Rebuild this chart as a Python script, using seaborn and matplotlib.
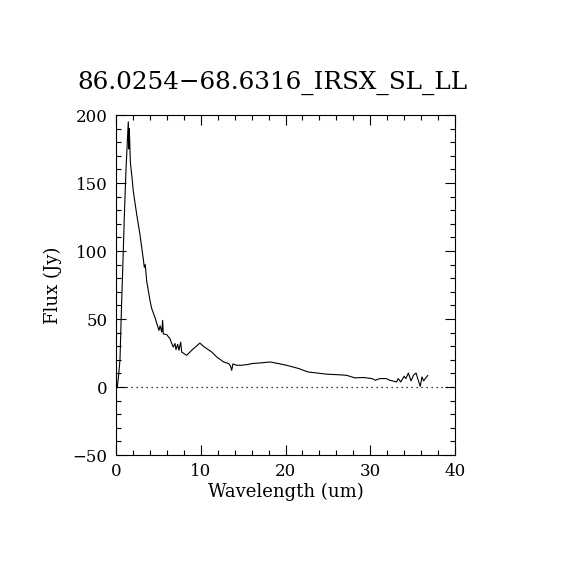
import matplotlib
matplotlib.use("Agg")
import matplotlib.pyplot as plt
import pandas as pd
import seaborn as sns
from matplotlib.ticker import MultipleLocator

# spectrum
wavelength = [0.15, 0.3, 0.47, 0.67, 0.86, 0.98, 1.18, 1.45, 1.52, 1.57, 1.7, 1.89,
              2.04, 2.44, 2.83, 3.22, 3.34, 3.45, 3.62, 4.0, 4.2, 4.6, 4.9, 5.07,
              5.2, 5.4, 5.5, 5.58, 5.98, 6.37, 6.57, 6.76, 6.96, 7.08, 7.28, 7.43,
              7.63, 7.75, 8.34, 8.93, 9.9, 10.3, 10.7, 11.3, 11.9, 12.7, 13.3, 13.5,
              13.65, 13.8, 14.2, 14.8, 15.5, 16.0, 17.0, 18.2, 19.2, 20.1, 20.9, 21.6,
              22.1, 22.7, 23.7, 24.9, 26.0, 27.2, 28.2, 29.2, 30.2, 30.6, 31.15, 31.9,
              32.3, 33.1, 33.3, 33.6, 34.0, 34.2, 34.5, 34.8, 35.1, 35.4, 35.6, 35.9,
              36.1, 36.3, 36.5, 36.8]
flux = [0, 8, 20, 63, 100, 125, 160, 195, 175, 190, 165, 154,
        144, 127, 112, 94, 88, 90, 78, 64, 58, 51, 45, 41.6,
        45, 40.4, 49, 39, 38.5, 35.5, 32, 29.4, 32, 27.5, 31.4, 27,
        33, 25.7, 23.3, 27, 32.3, 30, 28.2, 25.7, 22, 18.4, 17.2, 15.5,
        12.3, 17, 16, 16, 16.5, 17.2, 17.7, 18.4, 17.2, 16, 14.7, 13.5,
        12.3, 11, 10.3, 9.4, 9.1, 8.6, 6.7, 7, 6.2, 5, 6.2, 6.2,
        5, 3.7, 6.2, 3.7, 7.9, 6.2, 10.3, 4.5, 8.6, 10.3, 6.2, 0.5,
        7.4, 4.5, 6.2, 8.6]

title = "86.0254\u221268.6316_IRSX_SL_LL"

df = pd.DataFrame({"wavelength": wavelength, "flux": flux})

sns.set_style("ticks")
plt.rcParams["font.family"] = ["DejaVu Serif"]
plt.rcParams["text.color"] = "black"
plt.rcParams["axes.labelcolor"] = "black"

fig = plt.figure(figsize=(5.7, 5.7), dpi=100)
ax = fig.add_axes([116 / 570, 1 - 455 / 570, 339 / 570, 340 / 570])

sns.lineplot(data=df, x="wavelength", y="flux", ax=ax, color="black",
             linewidth=0.8, sort=False, estimator=None)
ax.axhline(0, color="black", linewidth=0.9, linestyle=(0, (1, 3)))

ax.set_xlim(0, 40)
ax.set_ylim(-50, 200)
ax.xaxis.set_major_locator(MultipleLocator(10))
ax.xaxis.set_minor_locator(MultipleLocator(2))
ax.yaxis.set_major_locator(MultipleLocator(50))
ax.yaxis.set_minor_locator(MultipleLocator(10))
ax.tick_params(which="both", direction="in", top=True, right=True,
               color="black", width=0.8, labelsize=12, labelcolor="black")
ax.tick_params(which="major", length=7, pad=6)
ax.tick_params(which="minor", length=3.5)
for s in ax.spines.values():
    s.set_color("black")
    s.set_linewidth(0.8)

ax.set_xlabel("Wavelength (um)", fontsize=13, labelpad=2, color="black")
ax.set_ylabel("Flux (Jy)", fontsize=13, labelpad=8, color="black")
fig.text(272 / 570, 1 - 83 / 570, title, ha="center", va="center",
         fontsize=17.7, color="black")

fig.savefig("out.png", dpi=100, facecolor="white")
